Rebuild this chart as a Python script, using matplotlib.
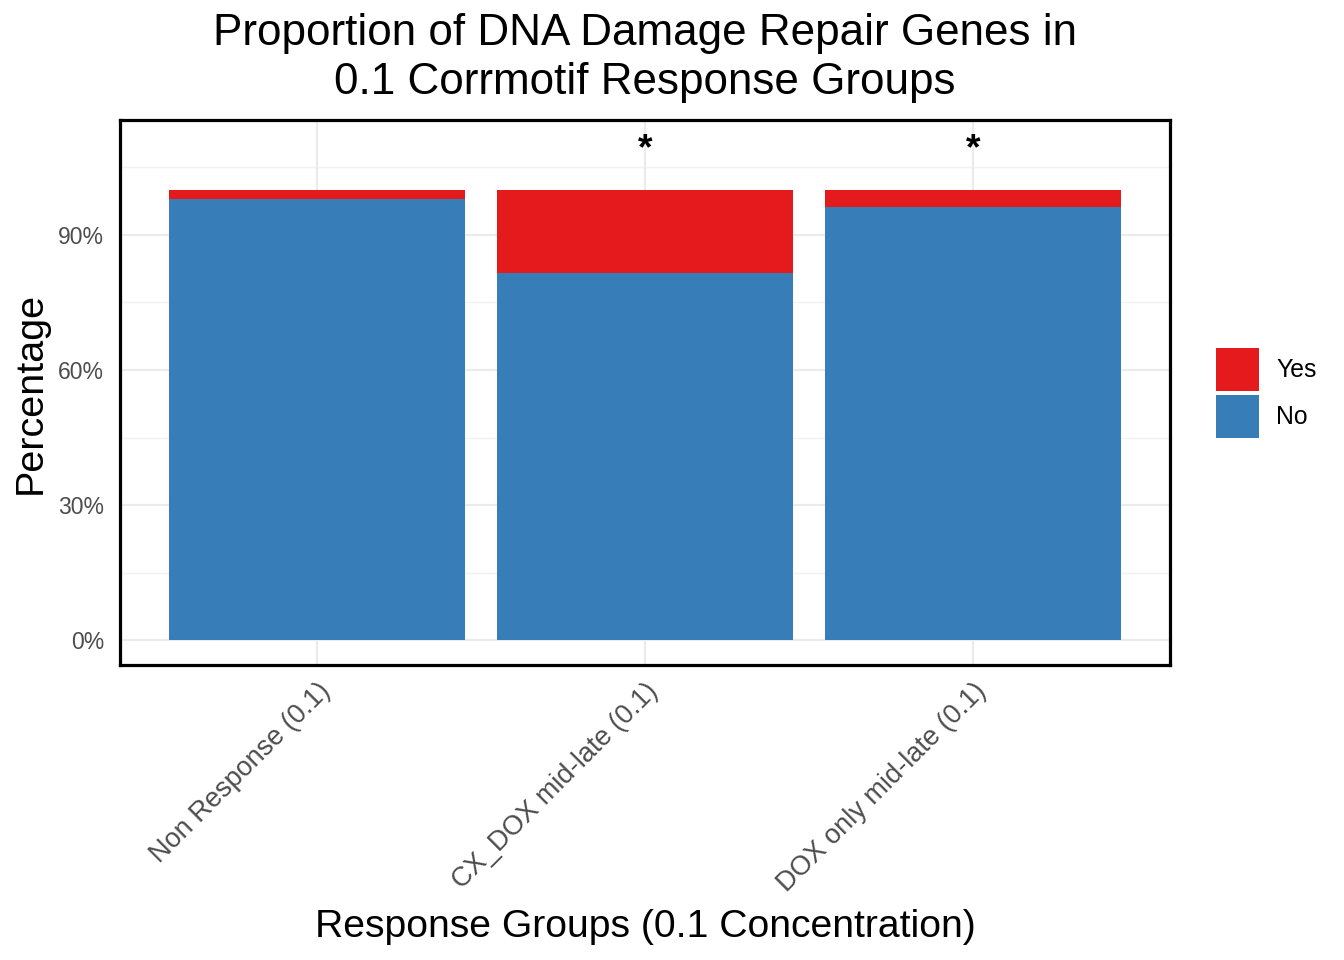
import matplotlib.pyplot as plt
import numpy as np

plt.rcParams['font.family'] = ['Liberation Sans', 'DejaVu Sans']

# 数据
groups = ['Non Response (0.1)', 'CX_DOX mid-late (0.1)', 'DOX only mid-late (0.1)']
no_pct = [0.979, 0.816, 0.961]
yes_pct = [1 - v for v in no_pct]
stars = ['', '*', '*']
yticks = [0, 0.3, 0.6, 0.9]
ytick_labels = ['0%', '30%', '60%', '90%']

blue = '#377EB8'
red = '#E41A1C'

fig = plt.figure(figsize=(7, 5), dpi=192)
ax = fig.add_axes([120/1344, 1 - 665/960, 1050/1344, 545/960])

x = np.arange(1, len(groups) + 1)

# 网格
for yv in [0.15, 0.45, 0.75, 1.05]:
    ax.axhline(yv, color='#F2F2F2', lw=0.55, zorder=0)
for yv in yticks:
    ax.axhline(yv, color='#EBEBEB', lw=0.8, zorder=0)
for xv in x:
    ax.axvline(xv, color='#EBEBEB', lw=0.8, zorder=0)

ax.bar(x, no_pct, width=0.9, color=blue, zorder=2)
ax.bar(x, yes_pct, width=0.9, bottom=no_pct, color=red, zorder=2)

for xi, s in zip(x, stars):
    if s:
        ax.text(xi, 1.09, s, ha='center', va='center', fontsize=14, fontweight='bold', zorder=3)

ax.set_xlim(0.4, 3.6)
ax.set_ylim(-0.055, 1.155)
ax.set_yticks(yticks)
ax.set_yticklabels(ytick_labels, fontsize=8.6, color='#4D4D4D')
ax.set_xticks(x)
ax.set_xticklabels(groups, rotation=45, ha='right', va='top', rotation_mode='anchor',
                   fontsize=10.2, color='#4D4D4D')
ax.tick_params(axis='y', length=0, pad=6)
ax.tick_params(axis='x', length=0, pad=5)

for sp in ax.spines.values():
    sp.set_linewidth(1.2)
    sp.set_color('black')

ax.set_ylabel('Percentage', fontsize=14.8, labelpad=3.4)
ax.set_xlabel('Response Groups (0.1 Concentration)', fontsize=14.7, labelpad=4.5)
fig.text(645/1344, 1 - 58/960, 'Proportion of DNA Damage Repair Genes in\n0.1 Corrmotif Response Groups',
         ha='center', va='center', fontsize=16.5, linespacing=1.22)

# 图例
from matplotlib.patches import Patch
handles = [Patch(facecolor=red, edgecolor='none'), Patch(facecolor=blue, edgecolor='none')]
fig.legend(handles, ['Yes', 'No'], loc='center left', bbox_to_anchor=(1216/1344, 1 - 393/960),
           frameon=False, fontsize=9.3, handlelength=1.73, handleheight=2.28,
           handletextpad=0.7, labelspacing=0.17, borderpad=0, borderaxespad=0)

fig.savefig('out.png', dpi=192)
